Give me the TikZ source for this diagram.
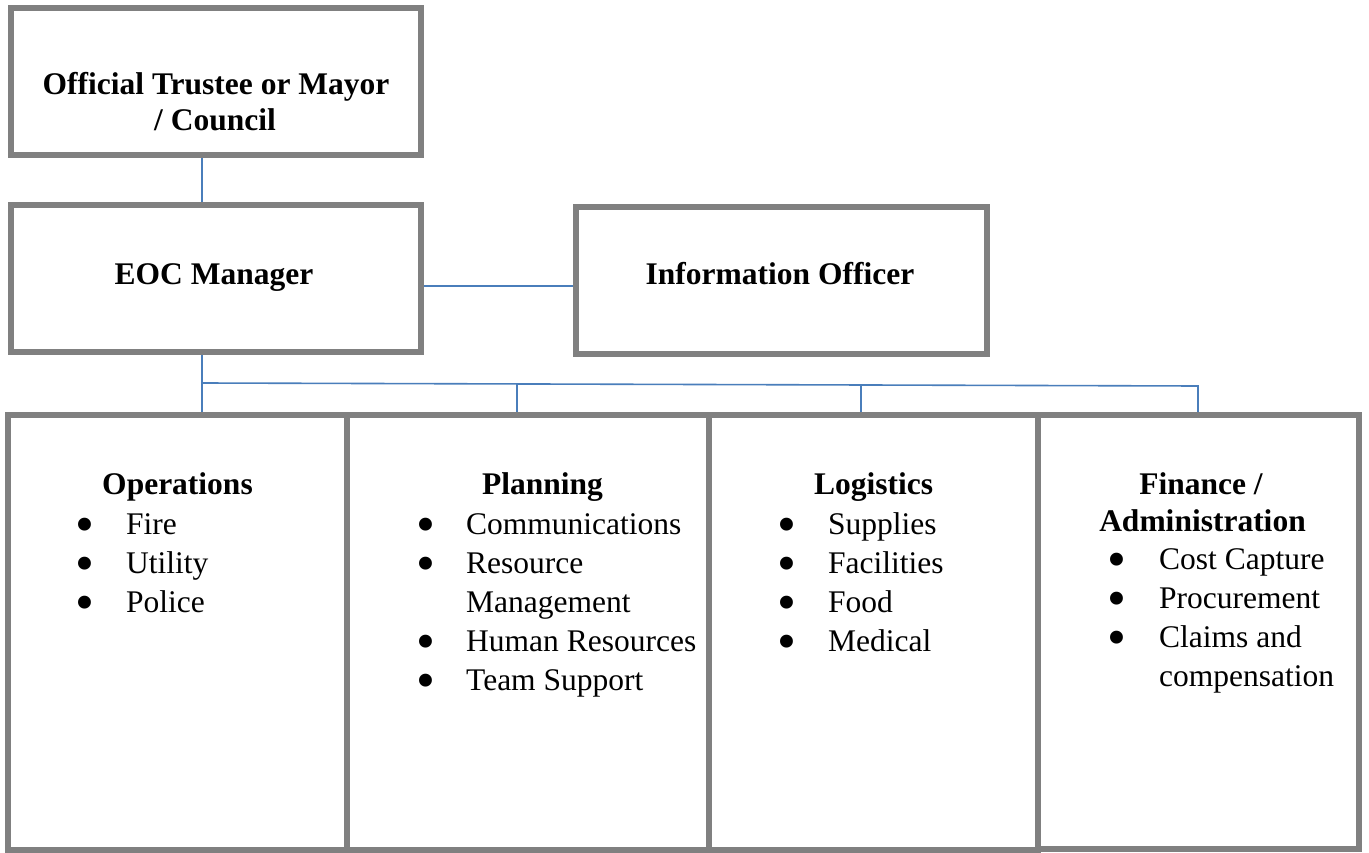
\documentclass[tikz,border=0pt]{standalone}
\usepackage{fontspec}
\setmainfont{Liberation Serif}
\definecolor{frame}{RGB}{128,128,128}
\definecolor{wire}{RGB}{74,126,187}
\begin{document}
\begin{tikzpicture}[x=1pt,y=-1pt,
  box/.style={draw=frame,line width=6pt,rectangle,inner sep=0pt,fill=white},
  link/.style={draw=wire,line width=1.6pt},
  txt/.style={inner sep=0pt,anchor=base,font=\fontsize{31.5}{38}\selectfont},
  head/.style={txt,font=\fontsize{31.5}{38}\selectfont\bfseries},
  item/.style={txt,anchor=base west},
  dot/.style={inner sep=0pt,anchor=base,yshift=-8.5pt,font=\fontsize{54}{60}\selectfont}]
\useasboundingbox[fill=white] (0,0) rectangle (1369,853);

% upper boxes
\node[box,minimum width=410pt,minimum height=147pt] (top) at (216,81.5) {};
\node[box,minimum width=410pt,minimum height=147pt] (eoc) at (216,278.5) {};
\node[box,minimum width=411pt,minimum height=147pt] (info) at (781.5,280.5) {};

% section boxes
\node[box,minimum width=339pt,minimum height=435pt] (ops) at (177.5,632.5) {};
\node[box,minimum width=362pt,minimum height=435pt] (plan) at (528,632.5) {};
\node[box,minimum width=329pt,minimum height=435pt] (logi) at (873.5,632.5) {};
\node[box,minimum width=321pt,minimum height=434pt] (fin) at (1198.5,632) {};

% bus points
\coordinate (b0) at (202,383);
\coordinate (b1) at (517,384);
\coordinate (b2) at (861,385);
\coordinate (b3) at (1198,386);
\coordinate (side) at (500,286);

% connectors
\draw[link] (top.south -| b0) -- (eoc.north -| b0);
\draw[link] (eoc.east |- side) -- (info.west |- side);
\draw[link] (eoc.south -| b0) -- (ops.north -| b0);
\draw[link] (b0) -- (b3) -- (fin.north -| b3);
\draw[link] (b1) -- (plan.north -| b1);
\draw[link] (b2) -- (logi.north -| b2);

% titles of the upper boxes
\node[head] (top-1) at (216,95) {Official Trustee or Mayor};
\node[head] (top-2) at (215,131) {/ Council};
\node[head] (eoc-t) at (214,284) {EOC Manager};
\node[head] (info-t) at (780,285) {Information Officer};

% Operations
\node[head] (ops-h) at (177.5,494) {Operations};
\node[dot] (ops-b1) at (85,534) {\smash{\textbullet}};
\node[item] (ops-t1) at (126,534) {Fire};
\node[dot] (ops-b2) at (85,573) {\smash{\textbullet}};
\node[item] (ops-t2) at (126,573) {Utility};
\node[dot] (ops-b3) at (85,612) {\smash{\textbullet}};
\node[item] (ops-t3) at (126,612) {Police};

% Planning
\node[head] (plan-h) at (542.5,494) {Planning};
\node[dot] (plan-b1) at (426,534) {\smash{\textbullet}};
\node[item] (plan-t1) at (466,534) {Communications};
\node[dot] (plan-b2) at (426,573) {\smash{\textbullet}};
\node[item] (plan-t2) at (466,573) {Resource};
\node[item] (plan-t2b) at (466,612) {Management};
\node[dot] (plan-b3) at (426,651) {\smash{\textbullet}};
\node[item] (plan-t3) at (466,651) {Human Resources};
\node[dot] (plan-b4) at (426,690) {\smash{\textbullet}};
\node[item] (plan-t4) at (466,690) {Team Support};

% Logistics
\node[head] (logi-h) at (873.5,494) {Logistics};
\node[dot] (logi-b1) at (787,534) {\smash{\textbullet}};
\node[item] (logi-t1) at (828,534) {Supplies};
\node[dot] (logi-b2) at (787,573) {\smash{\textbullet}};
\node[item] (logi-t2) at (828,573) {Facilities};
\node[dot] (logi-b3) at (787,612) {\smash{\textbullet}};
\node[item] (logi-t3) at (828,612) {Food};
\node[dot] (logi-b4) at (787,651) {\smash{\textbullet}};
\node[item] (logi-t4) at (828,651) {Medical};

% Finance / Administration
\node[head] (fin-h1) at (1201,494) {Finance /};
\node[head] (fin-h2) at (1202.5,531) {Administration};
\node[dot] (fin-b1) at (1117,569) {\smash{\textbullet}};
\node[item] (fin-t1) at (1159,569) {Cost Capture};
\node[dot] (fin-b2) at (1117,608) {\smash{\textbullet}};
\node[item] (fin-t2) at (1159,608) {Procurement};
\node[dot] (fin-b3) at (1117,647) {\smash{\textbullet}};
\node[item] (fin-t3) at (1159,647) {Claims and};
\node[item] (fin-t3b) at (1159,686) {compensation};
\end{tikzpicture}
\end{document}
